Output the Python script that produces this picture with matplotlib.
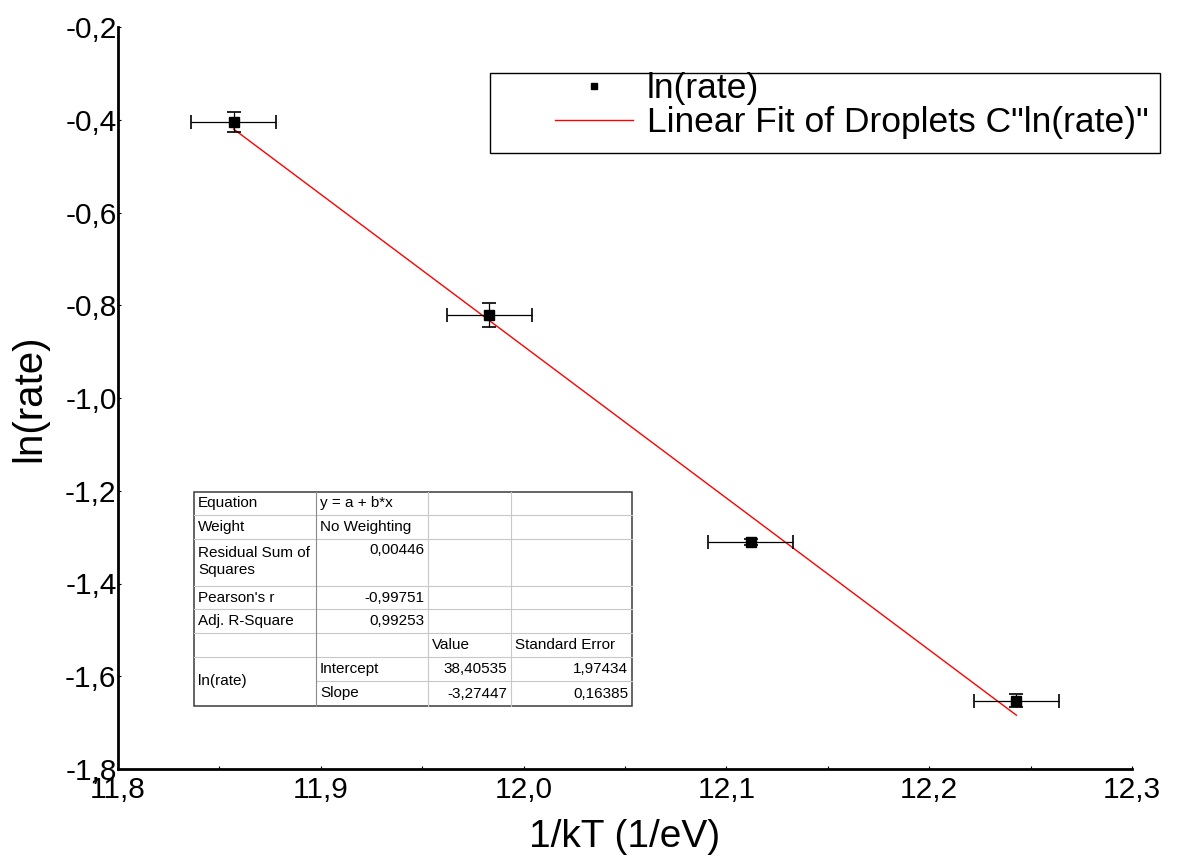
import matplotlib
matplotlib.use("Agg")
import matplotlib.pyplot as plt
from matplotlib.lines import Line2D
from matplotlib.patches import Rectangle
from matplotlib.ticker import FuncFormatter, MultipleLocator
import numpy as np

# measured points: 1/kT (1/eV) and ln(rate) with their uncertainties
inv_kt = [11.857, 11.983, 12.112, 12.243]
ln_rate = [-0.405, -0.821, -1.310, -1.653]
inv_kt_err = [0.021, 0.021, 0.021, 0.021]
ln_rate_err = [0.022, 0.026, 0.006, 0.014]

# linear fit results
fit_intercept = 38.40535
fit_slope = -3.27447
fit_intercept_err = 1.97434
fit_slope_err = 0.16385
residual_ss = 0.00446
pearson_r = -0.99751
adj_r_square = 0.99253

x_ticks = [11.8, 11.9, 12.0, 12.1, 12.2, 12.3]
y_ticks = [-1.8, -1.6, -1.4, -1.2, -1.0, -0.8, -0.6, -0.4, -0.2]

W, H = 1189, 860
FONT = "Liberation Sans"
plt.rcParams['font.family'] = [FONT, 'DejaVu Sans']


def comma(v, digits):
    return f"{v:.{digits}f}".replace('.', ',')


def px(x, y):
    # pixel position (from top-left) to figure fraction
    return x / W, 1 - y / H


fig = plt.figure(figsize=(W / 100, H / 100), dpi=100)
left, bottom = px(118, 769)
right, top = px(1132, 27)
ax = fig.add_axes([left, bottom, right - left, top - bottom])

ax.errorbar(inv_kt, ln_rate, xerr=inv_kt_err, yerr=ln_rate_err,
            fmt='s', color='black', ms=6.5, elinewidth=0.9,
            capsize=5, capthick=1.2, zorder=3)

fit_x = np.array([inv_kt[0], inv_kt[-1]])
ax.plot(fit_x, fit_intercept + fit_slope * fit_x, color='red', lw=1.0, zorder=2)

ax.set_xlim(x_ticks[0], x_ticks[-1])
ax.set_ylim(y_ticks[0], y_ticks[-1])
ax.set_xticks(x_ticks)
ax.set_yticks(y_ticks)
ax.xaxis.set_minor_locator(MultipleLocator(0.05))
ax.xaxis.set_major_formatter(FuncFormatter(lambda v, _: comma(v, 1)))
ax.yaxis.set_major_formatter(FuncFormatter(lambda v, _: comma(v, 1)))

for side in ('top', 'right'):
    ax.spines[side].set_visible(False)
for side in ('left', 'bottom'):
    ax.spines[side].set_linewidth(2.0)

ax.tick_params(which='major', direction='in', length=2, width=0.8,
               labelsize=21.5, pad=1)
ax.tick_params(which='minor', direction='in', length=2, width=0.8)
ax.tick_params(axis='x', pad=5)

ax.set_xlabel('1/kT (1/eV)', fontsize=28, labelpad=11)
ax.set_ylabel('ln(rate)', fontsize=29, labelpad=12)

# legend with a plain square frame
handles = [
    Line2D([], [], marker='s', ls='none', color='black', ms=5),
    Line2D([], [], color='red', lw=1.0),
]
labels = ['ln(rate)', 'Linear Fit of Droplets C"ln(rate)"']
lx, ly = px(555, 72)
fig.legend(handles, labels, loc='upper left', bbox_to_anchor=(lx, ly),
           bbox_transform=fig.transFigure, frameon=False, fontsize=25.5,
           borderpad=0, borderaxespad=0, handlelength=2.2,
           handletextpad=0.4, labelspacing=0.03)
fx0, fy0 = px(490, 153)
fx1, fy1 = px(1160, 73)
fig.add_artist(Rectangle((fx0, fy0), fx1 - fx0, fy1 - fy0,
                         transform=fig.transFigure, fill=False,
                         edgecolor='black', lw=1.0))

# fit summary table
cols = [194, 316, 428, 511, 632]
rows = [492, 515, 539, 586, 609, 633, 657, 681, 706]

fig.add_artist(Rectangle(px(cols[0], rows[-1]),
                         (cols[-1] - cols[0]) / W, (rows[-1] - rows[0]) / H,
                         transform=fig.transFigure, facecolor='white',
                         edgecolor='#3a3a3a', lw=1.1, zorder=4))


def hline(y, x0, x1, color='#c8c8c8'):
    a, b = px(x0, y)
    c, _ = px(x1, y)
    fig.add_artist(Line2D([a, c], [b, b], transform=fig.transFigure,
                          color=color, lw=0.8, zorder=5))


def vline(x, y0, y1, color='#c8c8c8'):
    a, b = px(x, y0)
    _, d = px(x, y1)
    fig.add_artist(Line2D([a, a], [b, d], transform=fig.transFigure,
                          color=color, lw=0.8, zorder=5))


for i, y in enumerate(rows[1:-1], start=1):
    start = cols[1] if i == 7 else cols[0]
    hline(y, start, cols[-1])
vline(cols[1], rows[0], rows[-1], color='#8a8a8a')
for x in cols[2:-1]:
    vline(x, rows[0], rows[-1])

table_cells = [
    # (row, col, text, align)
    (0, 0, 'Equation', 'left'),
    (0, 1, 'y = a + b*x', 'left'),
    (1, 0, 'Weight', 'left'),
    (1, 1, 'No Weighting', 'left'),
    (3, 0, "Pearson's r", 'left'),
    (3, 1, comma(pearson_r, 5), 'right'),
    (4, 0, 'Adj. R-Square', 'left'),
    (4, 1, comma(adj_r_square, 5), 'right'),
    (5, 2, 'Value', 'left'),
    (5, 3, 'Standard Error', 'left'),
    (6, 1, 'Intercept', 'left'),
    (6, 2, comma(fit_intercept, 5), 'right'),
    (6, 3, comma(fit_intercept_err, 5), 'right'),
    (7, 1, 'Slope', 'left'),
    (7, 2, comma(fit_slope, 5), 'right'),
    (7, 3, comma(fit_slope_err, 5), 'right'),
]

TFS = 11


def cell_text(x, y, text, align, va='center'):
    fx, fy = px(x, y)
    fig.text(fx, fy, text, ha=align, va=va, fontsize=TFS, zorder=6)


for r, c, text, align in table_cells:
    y = (rows[r] + rows[r + 1]) / 2
    x = cols[c] + 4 if align == 'left' else cols[c + 1] - 4
    cell_text(x, y, text, align)

# two-line residual row and the merged ln(rate) cell
cell_text(cols[0] + 4, rows[2] + 14, 'Residual Sum of', 'left')
cell_text(cols[0] + 4, rows[2] + 31, 'Squares', 'left')
cell_text(cols[2] - 4, rows[2] + 11, comma(residual_ss, 5), 'right')
cell_text(cols[0] + 4, rows[6] + 24, 'ln(rate)', 'left')

fig.savefig('out.png', dpi=100)
